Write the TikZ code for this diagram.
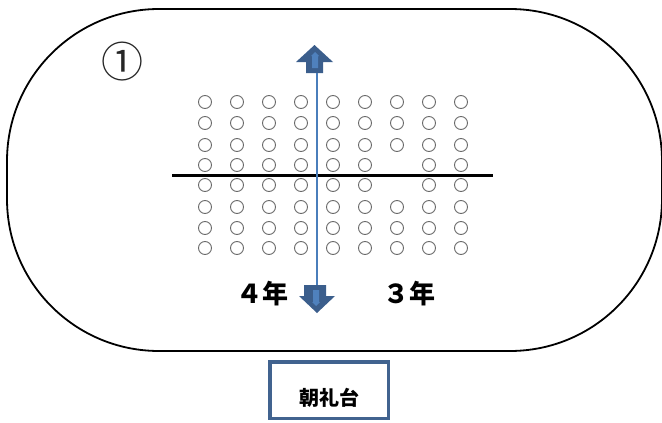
\documentclass[tikz,border=0pt]{standalone}
\usepackage{fontspec}
\newfontfamily\cjk{Noto Sans CJK JP}
\definecolor{arrowdark}{HTML}{3B5E8C}
\definecolor{arrowlight}{HTML}{4F81BD}
\definecolor{linkblue}{HTML}{4A7EBB}
\definecolor{boxblue}{HTML}{41638F}
\definecolor{seatgray}{HTML}{6A6A6A}
\tikzset{
  field/.style={draw=black, line width=1.8pt, rounded corners=152pt},
  seat/.style={draw=seatgray, line width=0.9pt},
  divider/.style={draw=black, line width=3pt},
  axis/.style={draw=linkblue, line width=1.8pt},
  blockarrow/.style={fill=arrowdark, draw=none},
  blockinner/.style={fill=arrowlight, draw=none},
  gradelabel/.style={font=\cjk\bfseries\fontsize{26}{26}\selectfont, inner sep=0pt},
  stagebox/.style={draw=boxblue, line width=3.5pt, minimum width=118.5pt, minimum height=56.5pt, inner sep=0pt},
  stagelabel/.style={font=\cjk\bfseries\fontsize{20}{20}\selectfont, inner sep=0pt},
  numlabel/.style={font=\cjk\fontsize{42}{42}\selectfont, inner sep=0pt, text=black!85}
}
\begin{document}
\begin{tikzpicture}[x=1pt, y=-1pt]
\useasboundingbox (0,0) rectangle (662,423);
% field
\draw[field] (7,9) rectangle (662,351);
% number
\node[numlabel] (num) at (122,62) {①};
% seats
\foreach \r/\y in {1/102,2/123,3/145,4/165,5/185,6/207,7/228,8/248}{
  \foreach \c/\x in {1/205,2/237,3/269,4/301,5/333,6/365,7/397,8/429,9/461}{
    \pgfmathtruncatemacro{\skip}{(\c==7)&&((\r==4)||(\r==5))}
    \ifnum\skip=0
      \draw[seat] (\x,\y) circle (6.5);
    \fi
  }
}
% divider
\coordinate (divL) at (172,175);
\coordinate (divR) at (493,175);
\draw[divider] (divL) -- (divR);
% up arrow
\fill[blockarrow] (314.5,45) -- (333,62) -- (323,62) -- (323,73) -- (306,73) -- (306,62) -- (296,62) -- cycle;
\fill[blockinner] (315,52) -- (319,56) -- (318,56) -- (318,68) -- (312,68) -- (312,56) -- (311,56) -- cycle;
% down arrow
\fill[blockarrow] (317,313) -- (335,296) -- (326,296) -- (326,285) -- (304,285) -- (304,296) -- (299,296) -- cycle;
\fill[blockinner] (316,306) -- (320,302) -- (319,302) -- (319,290) -- (313,290) -- (313,302) -- (312,302) -- cycle;
% axis
\coordinate (upbase) at (317,73);
\coordinate (downtop) at (317,285);
\draw[axis] (upbase) -- (downtop);
% grade labels
\node[gradelabel] (g4) at (262.5,294) {４年};
\node[gradelabel] (g3) at (409.5,294) {３年};
% stage
\node[stagebox] (stage) at (329,390) {};
\node[stagelabel] (stagetext) at ([yshift=-8pt]stage.center) {朝礼台};
\end{tikzpicture}
\end{document}
